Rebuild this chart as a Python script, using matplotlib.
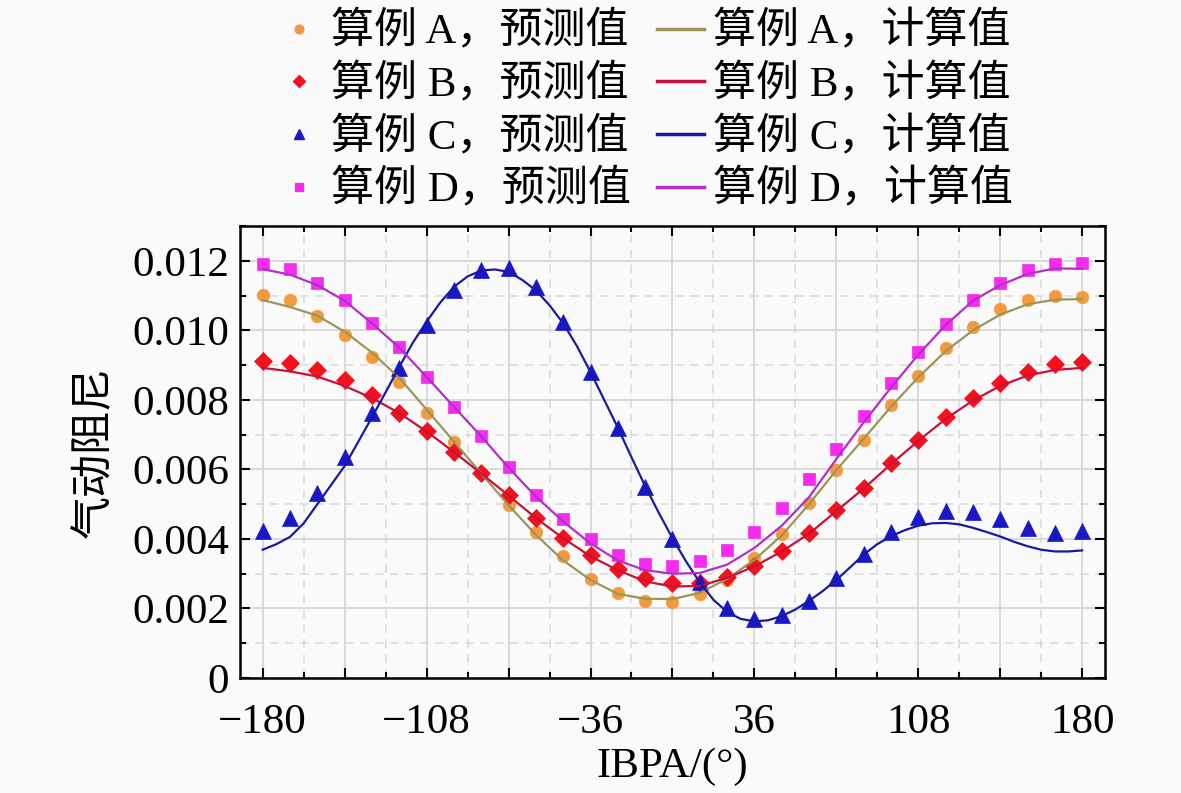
import matplotlib
matplotlib.use('Agg')
import matplotlib.pyplot as plt
from matplotlib.lines import Line2D
from matplotlib.ticker import FixedLocator, MultipleLocator, FuncFormatter

plt.rcParams['font.family'] = ['Liberation Serif', 'Noto Sans CJK SC']
plt.rcParams['font.size'] = 31

# IBPA in degrees, predicted points every 12 deg
ibpa = list(range(-180, 181, 12))
# calc line for case C read every 6 deg (sharper curve)
ibpa_fine = list(range(-180, 181, 6))

# predicted values (x1e-3)
pred_a = [11.01, 10.87, 10.41, 9.87, 9.23, 8.51, 7.62, 6.80, 5.90, 4.98, 4.21,
          3.51, 2.85, 2.45, 2.22, 2.19, 2.42, 2.83, 3.46, 4.15, 5.04, 5.98,
          6.85, 7.85, 8.69, 9.49, 10.09, 10.61, 10.87, 10.99, 10.96]
pred_b = [9.13, 9.06, 8.86, 8.57, 8.14, 7.63, 7.09, 6.50, 5.90, 5.27, 4.61,
          4.04, 3.55, 3.14, 2.88, 2.73, 2.73, 2.90, 3.23, 3.65, 4.17, 4.84,
          5.47, 6.19, 6.85, 7.51, 8.05, 8.49, 8.80, 9.03, 9.09]
pred_c = [4.23, 4.61, 5.32, 6.35, 7.62, 8.92, 10.15, 11.16, 11.73, 11.79, 11.24,
          10.24, 8.80, 7.19, 5.50, 4.01, 2.77, 2.02, 1.70, 1.82, 2.22, 2.88,
          3.57, 4.20, 4.64, 4.81, 4.78, 4.58, 4.32, 4.18, 4.23]
pred_d = [11.92, 11.76, 11.37, 10.87, 10.21, 9.53, 8.67, 7.80, 6.96, 6.07, 5.27,
          4.58, 4.00, 3.54, 3.28, 3.23, 3.36, 3.69, 4.20, 4.89, 5.73, 6.59,
          7.54, 8.49, 9.38, 10.19, 10.87, 11.36, 11.74, 11.91, 11.93]

# calculated values (x1e-3)
calc_a = [10.87, 10.67, 10.42, 9.96, 9.36, 8.63, 7.72, 6.80, 5.88, 4.97, 4.12,
          3.38, 2.82, 2.42, 2.28, 2.27, 2.45, 2.85, 3.40, 4.10, 5.00, 5.98,
          6.88, 7.80, 8.65, 9.40, 10.00, 10.45, 10.75, 10.88, 10.90]
calc_b = [8.92, 8.82, 8.67, 8.40, 8.05, 7.62, 7.09, 6.50, 5.88, 5.25, 4.60,
          4.02, 3.50, 3.10, 2.78, 2.63, 2.65, 2.88, 3.21, 3.64, 4.15, 4.80,
          5.45, 6.15, 6.82, 7.45, 7.98, 8.40, 8.70, 8.86, 8.92]
calc_c = [3.69, 3.85, 4.06, 4.45, 5.00, 5.55, 6.10, 6.80, 7.50, 8.22, 8.95,
          9.65, 10.25, 10.80, 11.25, 11.55, 11.72, 11.75, 11.68, 11.45, 11.15,
          10.72, 10.20, 9.55, 8.80, 8.00, 7.20, 6.35, 5.52, 4.75, 4.02,
          3.35, 2.75, 2.25, 1.90, 1.70, 1.63, 1.66, 1.78, 1.97, 2.22,
          2.50, 2.82, 3.18, 3.55, 3.85, 4.08, 4.25, 4.38, 4.45, 4.46,
          4.42, 4.32, 4.20, 4.07, 3.92, 3.79, 3.69, 3.64, 3.64, 3.67]
calc_d = [11.76, 11.60, 11.30, 10.85, 10.20, 9.50, 8.66, 7.80, 6.95, 6.05, 5.22,
          4.50, 3.87, 3.38, 3.10, 3.00, 3.02, 3.26, 3.74, 4.38, 5.20, 6.30,
          7.35, 8.35, 9.30, 10.15, 10.85, 11.30, 11.62, 11.78, 11.77]

names = ['A', 'B', 'C', 'D']
mk_colors = ['#F39A3D', '#F5101E', '#1818C8', '#F52CF0']
ln_colors = ['#9A9658', '#C8103C', '#1A1AA0', '#B42EC8']
markers = ['o', 'D', '^', 's']
msizes = [9, 9, 11, 8.5]

fig = plt.figure(figsize=(11.81, 7.93), dpi=100)
fig.patch.set_facecolor('#fafafa')
ax = fig.add_axes([0.2032, 0.145, 0.7324, 0.570])
ax.set_facecolor('#fafafa')

preds = [pred_a, pred_b, pred_c, pred_d]
calcs = [(ibpa, calc_a), (ibpa, calc_b), (ibpa_fine, calc_c), (ibpa, calc_d)]

for i in range(4):
    ax.plot(ibpa, [v * 1e-3 for v in preds[i]], linestyle='none',
            marker=markers[i], ms=msizes[i], color=mk_colors[i],
            markeredgewidth=0.5, zorder=3)
for i in range(4):
    xs, ys = calcs[i]
    ax.plot(xs, [v * 1e-3 for v in ys], color=ln_colors[i], lw=1.6, zorder=4)

ax.set_xlim(-190, 190)
ax.set_ylim(0, 0.013)

ax.xaxis.set_major_locator(FixedLocator(list(range(-180, 181, 36))))
ax.xaxis.set_minor_locator(MultipleLocator(18))
ax.xaxis.set_major_formatter(FuncFormatter(
    lambda v, p: ('%d' % v).replace('-', '\u2212') if int(round(v + 180)) % 72 == 0 else ''))
ax.yaxis.set_major_locator(MultipleLocator(0.002))
ax.yaxis.set_minor_locator(MultipleLocator(0.001))
ax.yaxis.set_major_formatter(FuncFormatter(lambda v, p: '0' if abs(v) < 1e-9 else '%.3f' % v))

ax.tick_params(which='both', direction='in', top=True, right=True, width=1.5)
ax.tick_params(which='major', length=7, pad=8)
ax.tick_params(axis='x', which='major', pad=18)
ax.tick_params(which='minor', length=4)
ax.grid(which='major', color='#d4d4d4', lw=1.2, ls='-')
ax.grid(which='minor', color='#dcdcdc', lw=1.2, ls=(0, (5, 4)))
ax.set_axisbelow(True)
for s in ax.spines.values():
    s.set_linewidth(1.8)

ax.set_xlabel('IBPA/(°)', labelpad=4)
ax.set_ylabel('气动阻尼', labelpad=12)

handles = []
labels = []
for i in range(4):
    handles.append(Line2D([], [], linestyle='none', marker=markers[i],
                          ms=msizes[i] * 0.7, color=mk_colors[i]))
    labels.append('算例 %s，预测值' % names[i])
for i in range(4):
    handles.append(Line2D([], [], color=ln_colors[i], lw=2.5))
    labels.append('算例 %s，计算值' % names[i])

fig.legend(handles, labels, ncol=2, loc='upper center',
           bbox_to_anchor=(0.545, 1.018), frameon=False,
           handlelength=1.1, handletextpad=0.2, columnspacing=0.6,
           labelspacing=0.27, borderpad=0.1)

fig.savefig('out.png', dpi=100, facecolor=fig.get_facecolor())
